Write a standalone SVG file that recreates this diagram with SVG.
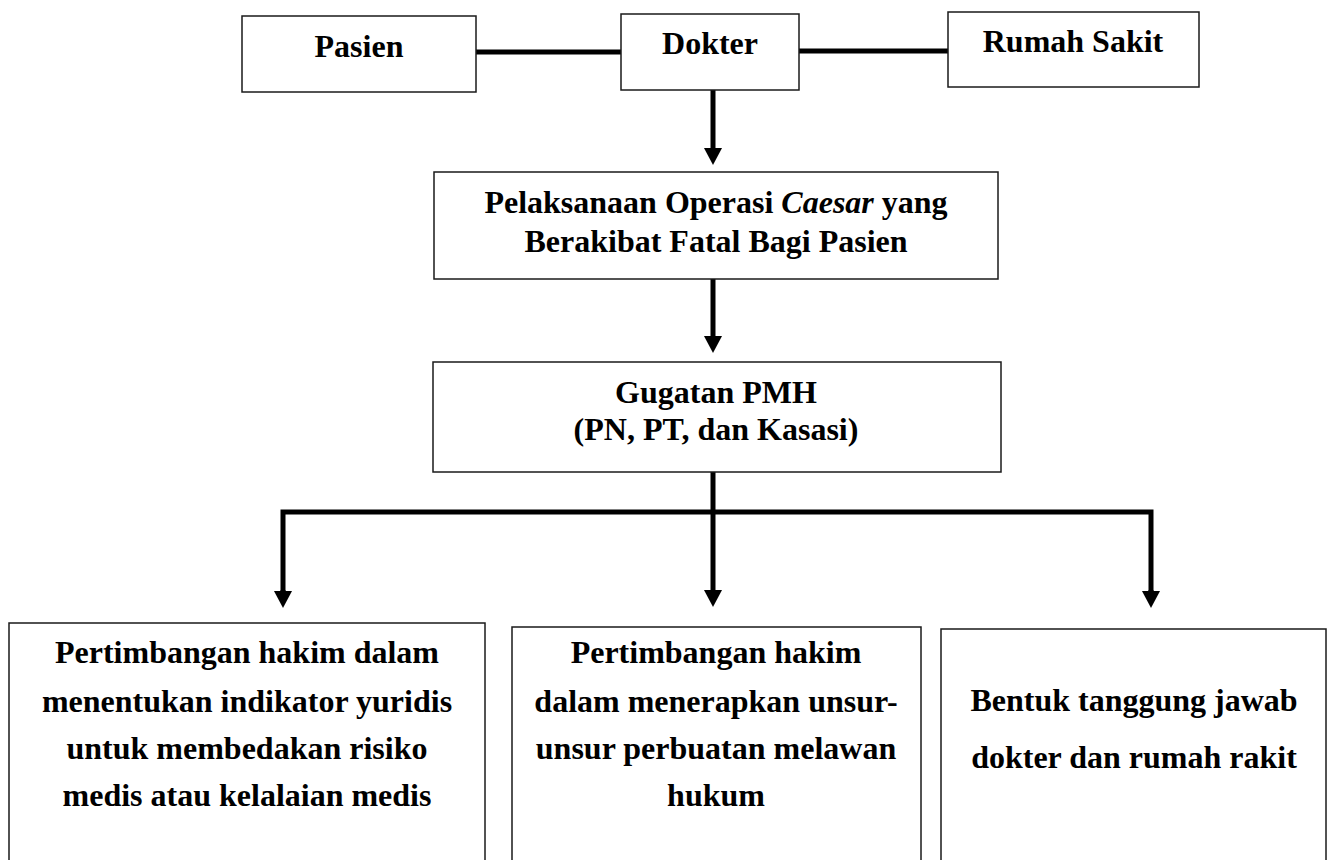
<svg xmlns="http://www.w3.org/2000/svg" width="1329" height="860" viewBox="0 0 1329 860">
<style>
.box{fill:#fff;stroke:#1a1a1a;stroke-width:1.5}
text{font-family:'Liberation Serif','DejaVu Serif',serif;font-weight:700;font-size:32px;fill:#000;text-anchor:middle}
.c{fill:none;stroke:#000;stroke-width:5;stroke-linejoin:miter}
</style>
<defs>
<marker id="ah" markerUnits="userSpaceOnUse" viewBox="0 0 17 18" refX="5" refY="9" markerWidth="17" markerHeight="18" orient="auto">
<path d="M0,0 L17,9 L0,18 z" fill="#000"/>
</marker>
</defs>
<rect width="1329" height="860" fill="#fff"/>
<g id="connectors">
<path class="c" d="M476,52 H621"/>
<path class="c" d="M799,51 H948"/>
<path class="c" d="M713,90 V153" marker-end="url(#ah)"/>
<path class="c" d="M713,279 V341" marker-end="url(#ah)"/>
<path class="c" d="M713,472 V512"/>
<path class="c" d="M283,596 V512 H1151 V596"/>
<path class="c" d="M283,590 V596" marker-end="url(#ah)"/>
<path class="c" d="M1151,590 V596" marker-end="url(#ah)"/>
<path class="c" d="M713,512 V595" marker-end="url(#ah)"/>
</g>
<g id="pasien">
<rect class="box" x="242" y="16" width="234" height="76"/>
<text x="359" y="57">Pasien</text>
</g>
<g id="dokter">
<rect class="box" x="621" y="14" width="178" height="76"/>
<text x="710" y="54">Dokter</text>
</g>
<g id="rumah-sakit">
<rect class="box" x="948" y="12" width="251" height="75"/>
<text x="1073" y="52">Rumah Sakit</text>
</g>
<g id="pelaksanaan">
<rect class="box" x="434" y="172" width="564" height="107"/>
<text x="716" y="213">Pelaksanaan Operasi <tspan font-style="italic">Caesar</tspan> yang</text>
<text x="716" y="252">Berakibat Fatal Bagi Pasien</text>
</g>
<g id="gugatan">
<rect class="box" x="433" y="362" width="568" height="110"/>
<text x="716" y="403">Gugatan PMH</text>
<text x="716" y="440">(PN, PT, dan Kasasi)</text>
</g>
<g id="indikator">
<rect class="box" x="9" y="623" width="476" height="260"/>
<text x="247" y="663">Pertimbangan hakim dalam</text>
<text x="247" y="712">menentukan indikator yuridis</text>
<text x="247" y="759">untuk membedakan risiko</text>
<text x="247" y="806">medis atau kelalaian medis</text>
</g>
<g id="unsur">
<rect class="box" x="512" y="627" width="409" height="260"/>
<text x="716" y="663">Pertimbangan hakim</text>
<text x="716" y="712">dalam menerapkan unsur-</text>
<text x="716" y="759">unsur perbuatan melawan</text>
<text x="716" y="806">hukum</text>
</g>
<g id="tanggung-jawab">
<rect class="box" x="941" y="629" width="385" height="260"/>
<text x="1134" y="711">Bentuk tanggung jawab</text>
<text x="1134" y="768">dokter dan rumah rakit</text>
</g>
</svg>
